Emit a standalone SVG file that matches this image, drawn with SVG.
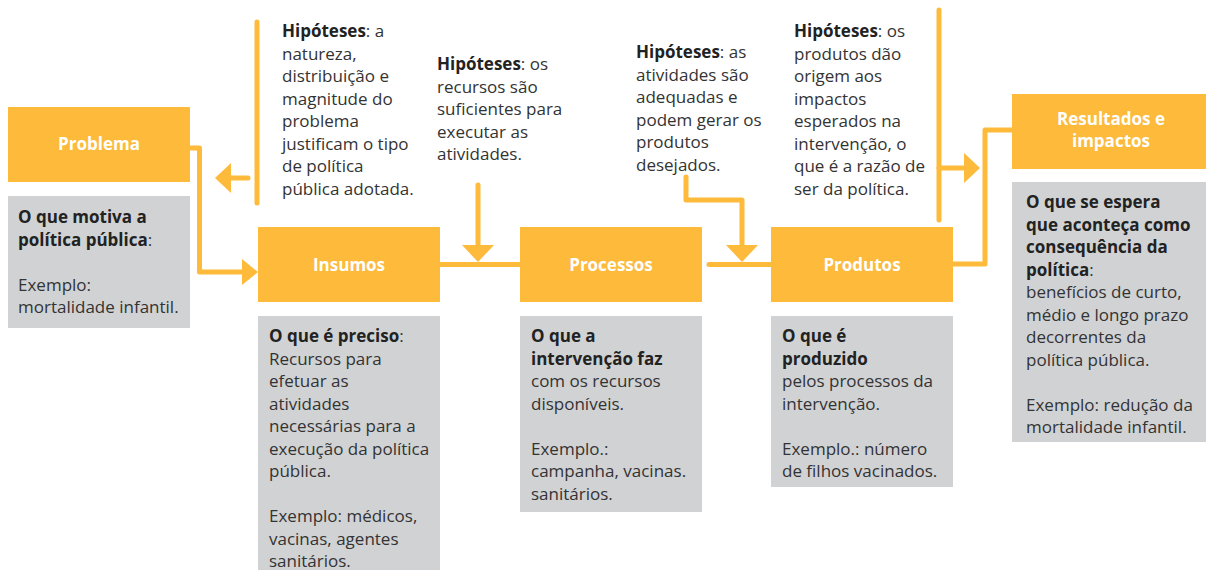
<svg xmlns="http://www.w3.org/2000/svg" width="1206" height="570" viewBox="0 0 1206 570">
<defs>
<style>
.head{fill:#FDBA3B}
.card{fill:#D1D2D4}
.title{font-family:"Open Sans","Noto Sans",sans-serif;font-size:17px;font-weight:bold;fill:#ffffff;text-anchor:middle}
.txt{font-family:"Open Sans","Noto Sans",sans-serif;font-size:17px;fill:#333333}
.b{font-weight:bold;fill:#222222}
.ln{fill:none;stroke:#FDBA3B;stroke-width:5;stroke-linecap:round;stroke-linejoin:round}
.ah{fill:#FDBA3B}
</style>
</defs>
<rect width="1206" height="570" fill="#ffffff"/>

<g id="connectors">
  <!-- Problema to Insumos -->
  <path class="ln" d="M190,148 H199.5 V272 H244"/>
  <polygon class="ah" points="258,272 242,259 242,285"/>
  <!-- Hipotese 1 bar and left arrow -->
  <path class="ln" d="M257,22 V203"/>
  <path class="ln" d="M248,178 H228"/>
  <polygon class="ah" points="215,178 231,163 231,193"/>
  <!-- Insumos to Processos -->
  <path d="M440,264.5 H520" stroke="#FDBA3B" stroke-width="5" fill="none"/>
  <path class="ln" d="M478,185 V248"/>
  <polygon class="ah" points="478,262 462,245 494,245"/>
  <!-- Processos to Produtos -->
  <path class="ln" d="M709,264.5 H771"/>
  <path class="ln" d="M686,177 V200 H742 V248" stroke-linecap="round"/>
  <polygon class="ah" points="742,262 726,245 758,245"/>
  <!-- Produtos to Resultados -->
  <path class="ln" d="M953,264 H985 V130 H1012"/>
  <!-- Hipotese 4 bar and right arrow -->
  <path class="ln" d="M939,10 V220"/>
  <path class="ln" d="M939,168 H967"/>
  <polygon class="ah" points="980,168 964,153 964,183"/>
</g>

<g id="problema">
  <rect class="head" x="8" y="107" width="182" height="75"/>
  <text class="title" x="99" y="150">Problema</text>
  <rect class="card" x="8" y="196" width="182" height="132"/>
  <text class="txt" x="18" y="223"><tspan class="b">O que motiva a</tspan><tspan x="18" y="245.5"><tspan class="b">política pública</tspan>:</tspan><tspan x="18" y="290.5">Exemplo:</tspan><tspan x="18" y="313">mortalidade infantil.</tspan></text>
</g>

<g id="hipotese1">
  <text class="txt" x="282" y="37"><tspan class="b">Hipóteses</tspan>: a<tspan x="282" y="59.5">natureza,</tspan><tspan x="282" y="82">distribuição e</tspan><tspan x="282" y="104.5">magnitude do</tspan><tspan x="282" y="127">problema</tspan><tspan x="282" y="149.5">justificam o tipo</tspan><tspan x="282" y="172">de política</tspan><tspan x="282" y="194.5">pública adotada.</tspan></text>
</g>

<g id="insumos">
  <rect class="head" x="258" y="227" width="182" height="75"/>
  <text class="title" x="349" y="271">Insumos</text>
  <rect class="card" x="258" y="316" width="182" height="260"/>
  <text class="txt" x="269" y="342"><tspan class="b">O que é preciso</tspan>:<tspan x="269" y="364.5">Recursos para</tspan><tspan x="269" y="387">efetuar as</tspan><tspan x="269" y="409.5">atividades</tspan><tspan x="269" y="432">necessárias para a</tspan><tspan x="269" y="454.5">execução da política</tspan><tspan x="269" y="477">pública.</tspan><tspan x="269" y="522">Exemplo: médicos,</tspan><tspan x="269" y="544.5">vacinas, agentes</tspan><tspan x="269" y="567">sanitários.</tspan></text>
</g>

<g id="hipotese2">
  <text class="txt" x="437" y="70"><tspan class="b">Hipóteses</tspan>: os<tspan x="437" y="92.5">recursos são</tspan><tspan x="437" y="115">suficientes para</tspan><tspan x="437" y="137.5">executar as</tspan><tspan x="437" y="160">atividades.</tspan></text>
</g>

<g id="processos">
  <rect class="head" x="520" y="227" width="182" height="75"/>
  <text class="title" x="611" y="271">Processos</text>
  <rect class="card" x="520" y="316" width="182" height="196"/>
  <text class="txt" x="531" y="342"><tspan class="b">O que a</tspan><tspan x="531" y="364.5" class="b">intervenção faz</tspan><tspan x="531" y="387">com os recursos</tspan><tspan x="531" y="409.5">disponíveis.</tspan><tspan x="531" y="454.5">Exemplo.:</tspan><tspan x="531" y="477">campanha, vacinas.</tspan><tspan x="531" y="499.5">sanitários.</tspan></text>
</g>

<g id="hipotese3">
  <text class="txt" x="636" y="58"><tspan class="b">Hipóteses</tspan>: as<tspan x="636" y="80.5">atividades são</tspan><tspan x="636" y="103">adequadas e</tspan><tspan x="636" y="125.5">podem gerar os</tspan><tspan x="636" y="148">produtos</tspan><tspan x="636" y="170.5">desejados.</tspan></text>
</g>

<g id="produtos">
  <rect class="head" x="771" y="227" width="182" height="75"/>
  <text class="title" x="862" y="271">Produtos</text>
  <rect class="card" x="771" y="316" width="182" height="171"/>
  <text class="txt" x="782" y="342"><tspan class="b">O que é</tspan><tspan x="782" y="364.5" class="b">produzido</tspan><tspan x="782" y="387">pelos processos da</tspan><tspan x="782" y="409.5">intervenção.</tspan><tspan x="782" y="454.5">Exemplo.: número</tspan><tspan x="782" y="477">de filhos vacinados.</tspan></text>
</g>

<g id="hipotese4">
  <text class="txt" x="794" y="37"><tspan class="b">Hipóteses</tspan>: os<tspan x="794" y="59.5">produtos dão</tspan><tspan x="794" y="82">origem aos</tspan><tspan x="794" y="104.5">impactos</tspan><tspan x="794" y="127">esperados na</tspan><tspan x="794" y="149.5">intervenção, o</tspan><tspan x="794" y="172">que é a razão de</tspan><tspan x="794" y="194.5">ser da política.</tspan></text>
</g>

<g id="resultados">
  <rect class="head" x="1012" y="94" width="194" height="75"/>
  <text class="title" x="1111" y="125">Resultados e<tspan x="1111" y="147">impactos</tspan></text>
  <rect class="card" x="1012" y="182" width="194" height="260"/>
  <text class="txt" x="1026" y="208"><tspan class="b">O que se espera</tspan><tspan x="1026" y="230.5" class="b">que aconteça como</tspan><tspan x="1026" y="253" class="b">consequência da</tspan><tspan x="1026" y="275.5"><tspan class="b">política</tspan>:</tspan><tspan x="1026" y="298">benefícios de curto,</tspan><tspan x="1026" y="320.5">médio e longo prazo</tspan><tspan x="1026" y="343">decorrentes da</tspan><tspan x="1026" y="365.5">política pública.</tspan><tspan x="1026" y="410.5">Exemplo: redução da</tspan><tspan x="1026" y="433">mortalidade infantil.</tspan></text>
</g>
</svg>
